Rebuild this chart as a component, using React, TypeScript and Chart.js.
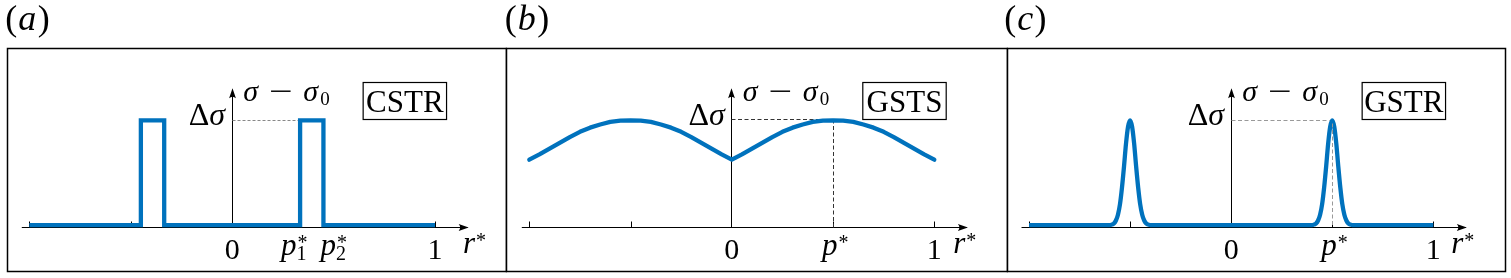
import React, { useEffect, useRef } from "react";
import { Chart, registerables } from "chart.js";

Chart.register(...registerables);

// ---------- data (r* on x, (sigma - sigma0)/Delta sigma on y) ----------
const cstrR = [-1, -0.45, -0.45, -0.335, -0.335, 0.335, 0.335, 0.45, 0.45, 1];
const cstrVal = [0, 0, 1, 1, 0, 0, 1, 1, 0, 0];

const gstsR = [
  -1, -0.95, -0.9, -0.85, -0.8, -0.75, -0.7, -0.65, -0.6, -0.55, -0.5,
  -0.45, -0.4, -0.35, -0.3, -0.25, -0.2, -0.15, -0.1, -0.05, 0,
  0.05, 0.1, 0.15, 0.2, 0.25, 0.3, 0.35, 0.4, 0.45, 0.5,
  0.55, 0.6, 0.65, 0.7, 0.75, 0.8, 0.85, 0.9, 0.95, 1,
];
const gstsVal = [
  0.625, 0.675, 0.73, 0.785, 0.84, 0.89, 0.93, 0.96, 0.985, 0.997, 1,
  0.997, 0.985, 0.96, 0.93, 0.89, 0.84, 0.785, 0.73, 0.675, 0.625,
  0.675, 0.73, 0.785, 0.84, 0.89, 0.93, 0.96, 0.985, 0.997, 1,
  0.997, 0.985, 0.96, 0.93, 0.89, 0.84, 0.785, 0.73, 0.675, 0.625,
];

const gstrR = [
  -1,
  -0.6, -0.59, -0.58, -0.57, -0.56, -0.55, -0.54, -0.53, -0.52, -0.51, -0.5,
  -0.49, -0.48, -0.47, -0.46, -0.45, -0.44, -0.43, -0.42, -0.41, -0.4,
  0.4, 0.41, 0.42, 0.43, 0.44, 0.45, 0.46, 0.47, 0.48, 0.49, 0.5,
  0.51, 0.52, 0.53, 0.54, 0.55, 0.56, 0.57, 0.58, 0.59, 0.6,
  1,
];
const gstrVal = [
  0,
  0, 0.006, 0.017, 0.045, 0.1, 0.2, 0.36, 0.56, 0.78, 0.94, 1,
  0.94, 0.78, 0.56, 0.36, 0.2, 0.1, 0.045, 0.017, 0.006, 0,
  0, 0.006, 0.017, 0.045, 0.1, 0.2, 0.36, 0.56, 0.78, 0.94, 1,
  0.94, 0.78, 0.56, 0.36, 0.2, 0.1, 0.045, 0.017, 0.006, 0,
  0,
];

const panelTags = ["a", "b", "c"];
const panelBoxes = ["CSTR", "GSTS", "GSTR"];

// ---------- layout / style ----------
const BLUE = "#0072BD";
const SERIF = '"Liberation Serif", "Times New Roman", serif';
const H = 278;
const PAD_TOP = 120.3;
const ZERO_Y = 225.2;
const AXIS_Y = 227.5;

type Panel = {
  key: string;
  left: number;
  width: number;
  xm1: number;
  x1: number;
  bl: number;
  br: number;
  rOff: number;
  r: number[];
  v: number[];
  cap: "butt" | "round";
  monotone: boolean;
};

const panels: Panel[] = [
  { key: "a", left: 0, width: 507, xm1: 29.3, x1: 435, bl: 7.5, br: 506.5, rOff: 28, r: cstrR, v: cstrVal, cap: "butt", monotone: false },
  { key: "b", left: 496, width: 512, xm1: 33.3, x1: 438.3, bl: 10.5, br: 511.5, rOff: 19, r: gstsR, v: gstsVal, cap: "round", monotone: false },
  { key: "c", left: 996, width: 515, xm1: 33, x1: 437.3, bl: 11.5, br: 509.5, rOff: 18, r: gstrR, v: gstrVal, cap: "butt", monotone: true },
];

function arrow(ctx: CanvasRenderingContext2D, tx: number, ty: number, ang: number) {
  ctx.save();
  ctx.translate(tx, ty);
  ctx.rotate(ang);
  ctx.beginPath();
  ctx.moveTo(0, 0);
  ctx.lineTo(-10, -3.4);
  ctx.quadraticCurveTo(-7, 0, -10, 3.4);
  ctx.closePath();
  ctx.fill();
  ctx.restore();
}

function font(size: number, italic = false) {
  return `${italic ? "italic " : ""}${size}px ${SERIF}`;
}

function makePlugin(p: Panel, idx: number) {
  return {
    id: "deco" + p.key,
    beforeDatasetsDraw(chart: any) {
      const ctx: CanvasRenderingContext2D = chart.ctx;
      const xs = chart.scales.x;
      const ys = chart.scales.y;
      const X = (v: number) => xs.getPixelForValue(v);
      const Y = (v: number) => ys.getPixelForValue(v);
      const x0 = X(0);
      const xa = Math.floor(x0) + 0.5;
      ctx.save();
      ctx.fillStyle = "#000";
      ctx.strokeStyle = "#000";

      // panel frame
      ctx.lineWidth = 1.5;
      ctx.strokeRect(p.bl, 48.5, p.br - p.bl, 223);

      // panel tag "(a)"
      ctx.textBaseline = "alphabetic";
      ctx.textAlign = "left";
      let tx = x0 - 227;
      const tb = 30;
      ctx.font = font(36);
      ctx.fillText("(", tx, tb);
      tx += ctx.measureText("(").width + 1;
      ctx.font = font(36, true);
      ctx.fillText(panelTags[idx], tx, tb);
      tx += ctx.measureText(panelTags[idx]).width + 1.5;
      ctx.font = font(36);
      ctx.fillText(")", tx, tb);

      // label box
      const bx = x0 + 131;
      ctx.lineWidth = 1.2;
      ctx.strokeRect(bx, 82.5, 83.4, 37);
      ctx.font = font(31);
      ctx.textAlign = "center";
      ctx.fillText(panelBoxes[idx], bx + 41.7, 112);
      ctx.textAlign = "left";

      // x axis
      ctx.lineWidth = 1;
      ctx.beginPath();
      ctx.moveTo(X(-1.037), AXIS_Y);
      ctx.lineTo(X(1.16), AXIS_Y);
      ctx.stroke();
      arrow(ctx, X(1.166), AXIS_Y, 0);

      // ticks
      const ticks = p.key === "a" ? [-1, -0.5, 1] : [-1, -0.5, 0.5, 1];
      ticks.forEach((t) => {
        const tx2 = Math.round(X(t)) + 0.5;
        ctx.beginPath();
        ctx.moveTo(tx2, AXIS_Y);
        ctx.lineTo(tx2, AXIS_Y - 6);
        ctx.stroke();
      });

      // y axis
      ctx.beginPath();
      ctx.moveTo(xa, AXIS_Y);
      ctx.lineTo(xa, 92);
      ctx.stroke();
      arrow(ctx, xa, 88.3, -Math.PI / 2);

      // y label sigma - sigma0
      const L = x0 + 11;
      const base = 100.5;
      ctx.font = font(30, true);
      ctx.fillText("σ", L, base);
      ctx.save();
      ctx.font = font(30);
      ctx.translate(L + 26, base);
      ctx.scale(1.4, 1);
      ctx.fillText("−", 0, 0);
      ctx.restore();
      ctx.font = font(30, true);
      ctx.fillText("σ", L + 60, base);
      ctx.font = font(19);
      ctx.fillText("0", L + 77, base + 4);

      // Delta sigma label
      ctx.font = font(32);
      const wD = ctx.measureText("Δ").width;
      ctx.font = font(32, true);
      const wS = ctx.measureText("σ").width;
      const ds = x0 - 7 - wD - wS;
      ctx.font = font(32);
      ctx.fillText("Δ", ds, 125);
      ctx.font = font(32, true);
      ctx.fillText("σ", ds + wD, 125);

      // tick labels
      ctx.font = font(30);
      ctx.textAlign = "center";
      ctx.fillText("0", x0, 259);
      ctx.fillText("1", X(1), 259);
      ctx.textAlign = "left";
      // r*
      const rx = X(1) + p.rOff;
      ctx.font = font(31, true);
      ctx.fillText("r", rx, 253);
      const rw = ctx.measureText("r").width;
      ctx.font = font(20);
      ctx.fillText("*", rx + rw + 1, 247);

      const pStar = (px: number, sub: string) => {
        ctx.font = font(31, true);
        ctx.fillText("p", px, 255);
        const pw = ctx.measureText("p").width;
        ctx.font = font(20);
        ctx.fillText("*", px + pw + 1, 249);
        if (sub) ctx.fillText(sub, px + pw, 260);
      };
      if (p.key === "a") {
        pStar(X(0.335) - 19, "1");
        pStar(X(0.45) - 3, "2");
      } else {
        pStar(X(0.5) - 11, "");
      }

      // dashed guides drawn under the curve
      ctx.lineWidth = 1;
      if (p.key === "a") {
        ctx.strokeStyle = "#888";
        ctx.setLineDash([3, 2]);
        ctx.beginPath();
        ctx.moveTo(xa, Math.round(Y(1)) + 0.5);
        ctx.lineTo(X(0.335) - 2, Math.round(Y(1)) + 0.5);
        ctx.stroke();
      } else if (p.key === "b") {
        ctx.strokeStyle = "#333";
        ctx.setLineDash([4, 2.5]);
        const yy = Math.round(Y(1)) - 0.5;
        const xp = Math.round(X(0.5)) + 0.5;
        ctx.beginPath();
        ctx.moveTo(xa, yy);
        ctx.lineTo(xp, yy);
        ctx.moveTo(xp, yy);
        ctx.lineTo(xp, AXIS_Y);
        ctx.stroke();
      }
      ctx.restore();
    },
    afterDatasetsDraw(chart: any) {
      if (p.key !== "c") return;
      const ctx: CanvasRenderingContext2D = chart.ctx;
      const xs = chart.scales.x;
      const ys = chart.scales.y;
      const X = (v: number) => xs.getPixelForValue(v);
      const Y = (v: number) => ys.getPixelForValue(v);
      const xa = Math.floor(X(0)) + 0.5;
      const yy = Math.round(Y(1)) + 0.5;
      const xp = Math.round(X(0.5)) + 0.5;
      ctx.save();
      ctx.strokeStyle = "#999";
      ctx.lineWidth = 1;
      ctx.setLineDash([4, 2.5]);
      ctx.beginPath();
      ctx.moveTo(xa, yy);
      ctx.lineTo(xp - 3, yy);
      ctx.moveTo(xp, yy + 3);
      ctx.lineTo(xp, AXIS_Y);
      ctx.stroke();
      ctx.restore();
    },
  };
}

function config(p: Panel, idx: number): any {
  return {
    type: "line",
    data: {
      datasets: [
        {
          data: p.r.map((x, i) => ({ x, y: p.v[i] })),
          borderColor: BLUE,
          borderWidth: 4.3,
          pointRadius: 0,
          fill: false,
          clip: false,
          tension: 0,
          cubicInterpolationMode: p.monotone ? "monotone" : "default",
          borderJoinStyle: p.key === "a" ? "miter" : "round",
          borderCapStyle: p.cap,
        },
      ],
    },
    options: {
      animation: false,
      responsive: false,
      maintainAspectRatio: false,
      events: [],
      layout: {
        padding: {
          left: p.xm1,
          right: p.width - p.x1,
          top: PAD_TOP,
          bottom: H - ZERO_Y,
        },
      },
      scales: {
        x: { type: "linear", min: -1, max: 1, display: false },
        y: { type: "linear", min: 0, max: 1, display: false },
      },
      plugins: { legend: { display: false }, tooltip: { enabled: false } },
    },
    plugins: [makePlugin(p, idx)],
  };
}

export default function App() {
  const refs = [useRef<HTMLCanvasElement>(null), useRef<HTMLCanvasElement>(null), useRef<HTMLCanvasElement>(null)];
  useEffect(() => {
    const charts = panels.map((p, i) => new Chart(refs[i].current as HTMLCanvasElement, config(p, i)));
    return () => charts.forEach((c) => c.destroy());
  }, []);
  return (
    <div style={{ position: "absolute", left: 0, top: 0, width: 1511, height: H, background: "#fff" }}>
      {panels.map((p, i) => (
        <canvas
          key={p.key}
          ref={refs[i]}
          width={p.width}
          height={H}
          style={{ position: "absolute", left: p.left, top: 0, width: p.width, height: H }}
        />
      ))}
    </div>
  );
}
